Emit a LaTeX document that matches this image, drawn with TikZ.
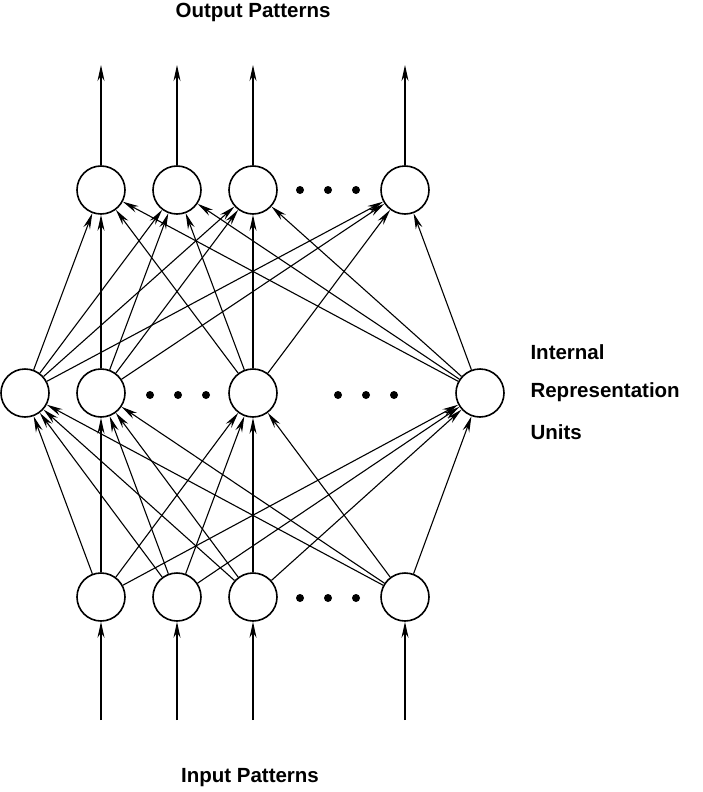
\documentclass[tikz,border=0pt]{standalone}
\usepackage{fontspec}
\setmainfont{Liberation Sans}
\usetikzlibrary{arrows.meta}
\begin{document}
\begin{tikzpicture}[x=1pt,y=-1pt,
  unit/.style={circle,draw,line width=1.6pt,minimum size=48pt,inner sep=0pt},
  con/.style={line width=1.1pt,-{Stealth[length=16pt,width=7pt]}},
  dot/.style={circle,fill,inner sep=0pt,minimum size=8pt},
  lab/.style={font=\bfseries\fontsize{20.5}{22}\selectfont}]
\useasboundingbox (0,0) rectangle (702,792);
\foreach \n/\x in {1/101,2/177,3/253,4/405}{
  \node[unit] (o\n) at (\x,190) {};
  \node[unit] (i\n) at (\x,597) {};
  \coordinate (ot\n) at (\x,65);
  \coordinate (ib\n) at (\x,720);
  \draw[con] (o\n) -- (ot\n);
  \draw[con] (ib\n) -- (i\n);
}
\foreach \n/\x in {1/25,2/101,3/253,4/480}{\node[unit] (h\n) at (\x,393) {};}
\foreach \a in {1,...,4}{\foreach \b in {1,...,4}{
  \draw[con] (i\a) -- (h\b);
  \draw[con] (h\a) -- (o\b);
}}
\foreach \x in {300,328,356}{\node[dot] (do\x) at (\x,190) {}; \node[dot] (di\x) at (\x,598) {};}
\foreach \x in {150,178,206,338,366,394}{\node[dot] (dh\x) at (\x,395) {};}
\node[lab] (tout) at (253,12) {Output Patterns};
\node[lab] (tin) at (250,778) {Input Patterns};
\node[lab,anchor=west] (t1) at (527,352) {Internal};
\node[lab,anchor=west] (t2) at (527,392) {Representation};
\node[lab,anchor=west] (t3) at (527,432) {Units};
\end{tikzpicture}
\end{document}
